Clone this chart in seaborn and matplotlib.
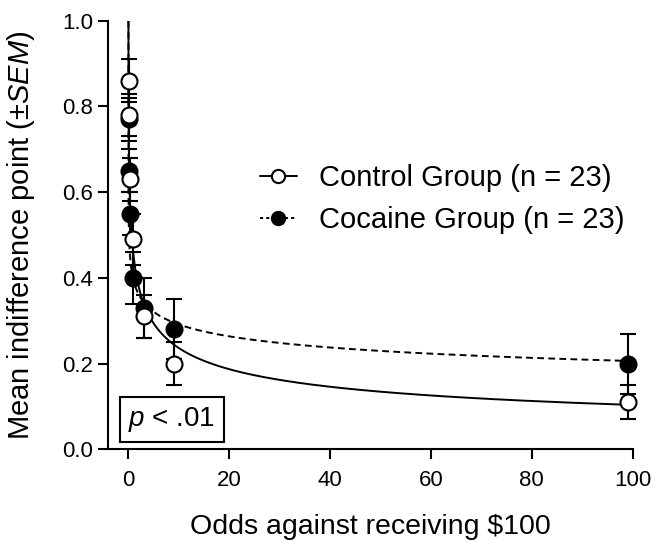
import numpy as np
import pandas as pd
import matplotlib
matplotlib.use("Agg")
import matplotlib.pyplot as plt
from matplotlib.lines import Line2D
import seaborn as sns

# ---- data ----
odds = [0.05, 0.11, 0.33, 1, 3, 9, 99]
control_mean = [0.86, 0.78, 0.63, 0.49, 0.31, 0.20, 0.11]
control_sem = [0.05, 0.05, 0.05, 0.06, 0.05, 0.05, 0.04]
cocaine_mean = [0.77, 0.65, 0.55, 0.40, 0.33, 0.28, 0.20]
cocaine_sem = [0.05, 0.05, 0.05, 0.06, 0.07, 0.07, 0.07]
# fitted discounting parameters  V = 1 / (1 + h * odds**s)
control_h, control_s = 1.207, 0.428
cocaine_h, cocaine_s = 1.535, 0.20
xticks = [0, 20, 40, 60, 80, 100]
yticks = [0.0, 0.2, 0.4, 0.6, 0.8, 1.0]
labels = ["Control Group (n = 23)", "Cocaine Group (n = 23)"]

sns.set_theme(style="ticks")
plt.rcParams["font.family"] = ["Liberation Sans", "DejaVu Sans"]
plt.rcParams["mathtext.fontset"] = "custom"
plt.rcParams["mathtext.rm"] = "Liberation Sans"
plt.rcParams["mathtext.it"] = "Liberation Sans:italic"
for k in ["text.color", "axes.labelcolor", "xtick.color", "ytick.color",
          "axes.edgecolor"]:
    plt.rcParams[k] = "black"

fig = plt.figure(figsize=(6.57, 5.41), dpi=100)
ax = fig.add_axes([0.1648, 0.1695, 0.798, 0.7922])

theta = np.concatenate([[0.0], np.logspace(-8, np.log10(99), 600)])
curves = pd.DataFrame({
    "odds": np.concatenate([theta, theta]),
    "value": np.concatenate([1 / (1 + control_h * theta ** control_s),
                             1 / (1 + cocaine_h * theta ** cocaine_s)]),
    "group": ["Control"] * len(theta) + ["Cocaine"] * len(theta),
})
sns.lineplot(data=curves[curves.group == "Control"], x="odds", y="value",
             color="black", lw=1.4, ax=ax, zorder=2, estimator=None, sort=False)
sns.lineplot(data=curves[curves.group == "Cocaine"], x="odds", y="value",
             color="black", lw=1.4, ls=(0, (3.5, 2.2)), ax=ax, zorder=2,
             estimator=None, sort=False)

ax.errorbar(odds, cocaine_mean, yerr=cocaine_sem, fmt="o", color="black",
            mfc="black", mec="black", ms=11.5, mew=1.5, elinewidth=1.5,
            capsize=6, capthick=1.5, zorder=3, clip_on=False)
ax.errorbar(odds, control_mean, yerr=control_sem, fmt="o", color="black",
            mfc="white", mec="black", ms=11.5, mew=1.5, elinewidth=1.5,
            capsize=6, capthick=1.5, zorder=4, clip_on=False)

ax.set_xlim(-4, 100)
ax.set_ylim(0, 1.0)
ax.set_xticks(xticks)
ax.set_yticks(yticks)
ax.set_xticklabels([str(t) for t in xticks])
ax.set_yticklabels([f"{t:.1f}" for t in yticks])
ax.tick_params(axis="both", length=7.2, width=1.5, labelsize=16,
               color="black", labelcolor="black", direction="out")
ax.tick_params(axis="x", pad=8)
ax.tick_params(axis="y", pad=3.6)
for s in ["left", "bottom"]:
    ax.spines[s].set_linewidth(1.5)
    ax.spines[s].set_color("black")
sns.despine(ax=ax)

ax.set_xlabel("Odds against receiving \\$100", fontsize=20.5, labelpad=16)
ax.set_ylabel("Mean indifference point (\u00b1$\\mathit{SEM}$)", fontsize=21,
              labelpad=18.5)

ax.text(0.038, 0.036, "$\\mathit{p}$ < .01", transform=ax.transAxes,
        fontsize=20, ha="left", va="bottom",
        bbox=dict(boxstyle="square,pad=0.3", fc="white", ec="black", lw=1.5))

handles = [
    Line2D([], [], color="black", lw=1.4, marker="o", mfc="white",
           mec="black", ms=9.5, mew=1.5),
    Line2D([], [], color="black", lw=1.4, ls=(0, (1.6, 1.6)), marker="o",
           mfc="black", mec="black", ms=9.5, mew=1.5),
]
fig.legend(handles, labels, loc="upper left", bbox_to_anchor=(0.3957, 0.697),
           frameon=False, fontsize=21, handlelength=1.27, handletextpad=0.74,
           labelspacing=0.49, borderpad=0, borderaxespad=0)

fig.savefig("out.png", dpi=100)
